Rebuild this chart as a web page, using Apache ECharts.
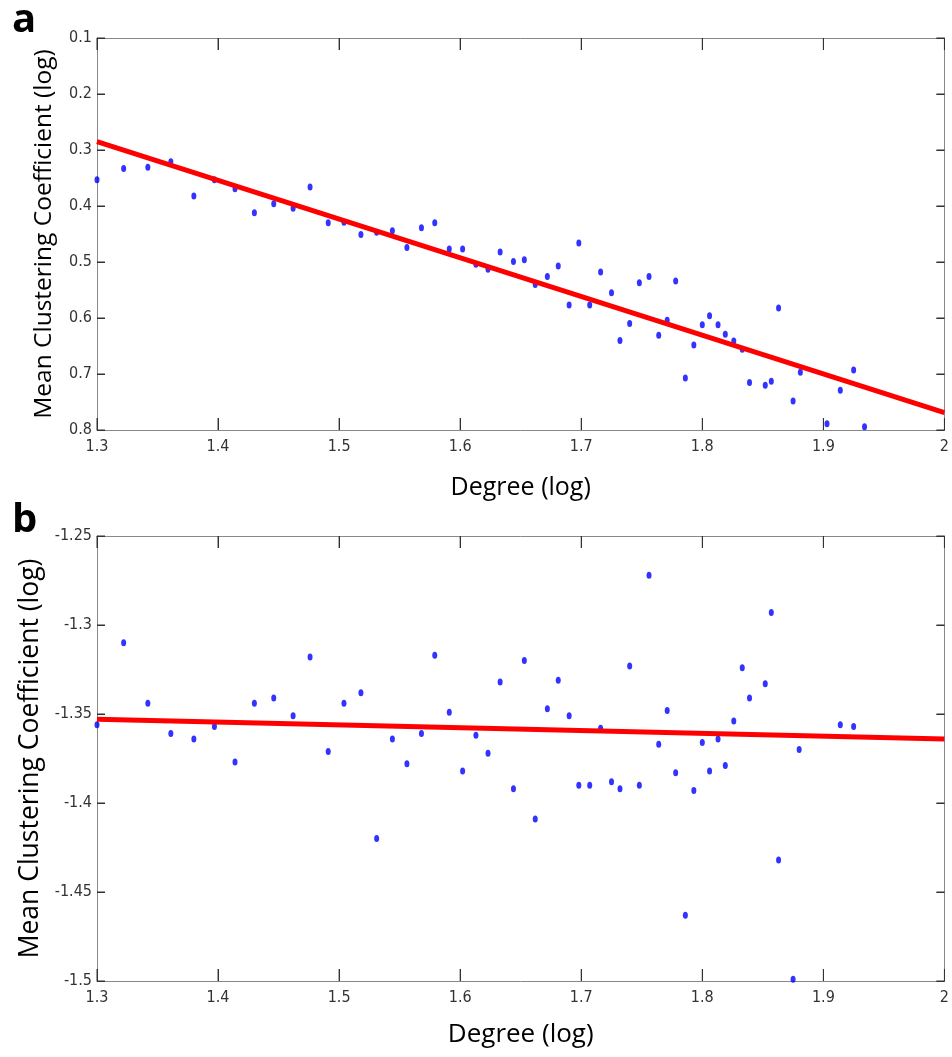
<!DOCTYPE html>
<html>
<head>
<meta charset="utf-8">
<script src="https://cdn.jsdelivr.net/npm/echarts@6/dist/echarts.min.js"></script>
<style>html,body{margin:0;padding:0;background:#fff;}#c{width:952px;height:1057px;}</style>
</head>
<body>
<div id="c"></div>
<script>
// Panel a data
const degreeA = [1.300,1.322,1.342,1.361,1.380,1.397,1.414,1.430,1.446,1.462,1.476,1.491,1.504,1.518,1.531,1.544,1.556,1.568,1.579,1.591,1.602,1.613,1.623,1.633,1.644,1.653,1.662,1.672,1.681,1.690,1.698,1.707,1.716,1.725,1.732,1.740,1.748,1.756,1.764,1.771,1.778,1.786,1.793,1.800,1.806,1.813,1.819,1.826,1.833,1.839,1.852,1.857,1.863,1.875,1.881,1.903,1.914,1.925,1.934];
const clusteringA = [0.353,0.333,0.331,0.321,0.382,0.353,0.369,0.412,0.396,0.404,0.366,0.430,0.429,0.451,0.447,0.444,0.474,0.439,0.430,0.477,0.477,0.504,0.513,0.482,0.499,0.496,0.540,0.526,0.507,0.577,0.466,0.577,0.518,0.555,0.640,0.610,0.537,0.526,0.631,0.604,0.534,0.707,0.648,0.612,0.596,0.612,0.629,0.641,0.656,0.715,0.720,0.713,0.582,0.748,0.697,0.789,0.729,0.693,0.794];
const fitA = [[1.3, 0.285], [2.0, 0.769]];

// Panel b data
const degreeB = [1.300,1.322,1.342,1.361,1.380,1.397,1.414,1.430,1.446,1.462,1.476,1.491,1.504,1.518,1.531,1.544,1.556,1.568,1.579,1.591,1.602,1.613,1.623,1.633,1.644,1.653,1.662,1.672,1.681,1.690,1.698,1.707,1.716,1.725,1.732,1.740,1.748,1.756,1.764,1.771,1.778,1.786,1.793,1.800,1.806,1.813,1.819,1.826,1.833,1.839,1.852,1.857,1.863,1.875,1.880,1.914,1.925];
const clusteringB = [-1.356,-1.310,-1.344,-1.361,-1.364,-1.357,-1.377,-1.344,-1.341,-1.351,-1.318,-1.371,-1.344,-1.338,-1.420,-1.364,-1.378,-1.361,-1.317,-1.349,-1.382,-1.362,-1.372,-1.332,-1.392,-1.320,-1.409,-1.347,-1.331,-1.351,-1.390,-1.390,-1.358,-1.388,-1.392,-1.323,-1.390,-1.272,-1.367,-1.348,-1.383,-1.463,-1.393,-1.366,-1.382,-1.364,-1.379,-1.354,-1.324,-1.341,-1.333,-1.293,-1.432,-1.499,-1.370,-1.356,-1.357];
const fitB = [[1.3, -1.353], [2.0, -1.364]];

// Tick values
const xTicks = [1.3, 1.4, 1.5, 1.6, 1.7, 1.8, 1.9, 2.0];
const yTicksA = [0.1, 0.2, 0.3, 0.4, 0.5, 0.6, 0.7, 0.8];
const yTicksB = [-1.5, -1.45, -1.4, -1.35, -1.3, -1.25];

const xTitle = 'Degree (log)';
const yTitle = 'Mean Clustering Coefficient (log)';

const chart = echarts.init(document.getElementById('c'), null, {renderer: 'canvas'});
function tickFont() { return {fontFamily: '"Liberation Sans Narrow", "DejaVu Sans Condensed", sans-serif', fontSize: 16, color: '#333'}; }
function titleFont(sz) { return {fontFamily: '"Open Sans", sans-serif', fontSize: sz, color: '#000'}; }
function axLine() { return {show: true, onZero: false, lineStyle: {color: '#888', width: 1}}; }
function axTick(len) { return {show: true, inside: true, length: len, lineStyle: {color: '#333', width: 1}}; }

const xRange = {min: 1.3, max: 2, interval: 0.1};
const yA = {min: 0.1, max: 0.8, interval: 0.1, inverse: true};
const yB = {min: -1.5, max: -1.25, interval: 0.05};

function xAx(gi, main, gap, sz) {
  return {
    type: 'value', gridIndex: gi, min: xRange.min, max: xRange.max, interval: xRange.interval,
    position: main ? 'bottom' : 'top',
    axisLine: axLine(), axisTick: axTick(12), splitLine: {show: false},
    axisLabel: main ? Object.assign({show: true, margin: 9}, tickFont()) : {show: false},
    name: main ? xTitle : '', nameLocation: 'middle', nameGap: gap, nameTextStyle: titleFont(sz)
  };
}
function yAx(gi, main, gap, sz, range) {
  return {
    type: 'value', gridIndex: gi, min: range.min, max: range.max, interval: range.interval, inverse: !!range.inverse,
    position: main ? 'left' : 'right',
    axisLine: axLine(), axisTick: axTick(8), splitLine: {show: false},
    axisLabel: main ? Object.assign({show: true, margin: 5}, tickFont()) : {show: false},
    name: main ? yTitle : '', nameLocation: 'middle', nameGap: gap, nameRotate: 90, nameTextStyle: titleFont(sz)
  };
}

const panelLabels = [
  {type: 'text', left: 12, top: 1, style: {text: 'a', font: 'bold 40px "Open Sans", sans-serif', fill: '#000'}},
  {type: 'text', left: 12, top: 501, style: {text: 'b', font: 'bold 40px "Open Sans", sans-serif', fill: '#000'}}
];

chart.setOption({
  animation: false,
  backgroundColor: '#fff',
  grid: [
    {left: 97, top: 38, width: 851, height: 392, show: false},
    {left: 97, top: 536, width: 851, height: 445, show: false}
  ],
  xAxis: [xAx(0, true, 45, 25), xAx(0, false, 0, 25), xAx(1, true, 41, 26), xAx(1, false, 0, 26)],
  yAxis: [yAx(0, true, 40, 24.5, yA), yAx(0, false, 0, 24.5, yA), yAx(1, true, 50, 26.5, yB), yAx(1, false, 0, 26.5, yB)],
  graphic: panelLabels,
  series: [
    {type: 'scatter', xAxisIndex: 0, yAxisIndex: 0, symbol: 'circle', symbolSize: [5, 7],
     itemStyle: {color: '#0000ff'}, data: degreeA.map((d, i) => [d, clusteringA[i]]), z: 3},
    {type: 'line', xAxisIndex: 0, yAxisIndex: 0, data: fitA, showSymbol: false, symbol: 'none',
     lineStyle: {color: '#ff0000', width: 5}, z: 4},
    {type: 'scatter', xAxisIndex: 2, yAxisIndex: 2, symbol: 'circle', symbolSize: [5, 7],
     itemStyle: {color: '#0000ff'}, data: degreeB.map((d, i) => [d, clusteringB[i]]), z: 3},
    {type: 'line', xAxisIndex: 2, yAxisIndex: 2, data: fitB, showSymbol: false, symbol: 'none',
     lineStyle: {color: '#ff0000', width: 5}, z: 4}
  ]
});

// Inside tick marks on all four sides, positioned through the chart's own axis scales
function tickGraphics(finder, yRange, yTicks) {
  const out = [];
  const st = () => ({stroke: '#333', lineWidth: 1});
  const yLo = yRange.inverse ? yRange.max : yRange.min;
  const yHi = yRange.inverse ? yRange.min : yRange.max;
  xTicks.forEach(v => {
    const b = chart.convertToPixel(finder, [v, yLo]);
    const t = chart.convertToPixel(finder, [v, yHi]);
    out.push({type: 'line', z: 100, shape: {x1: b[0], y1: b[1], x2: b[0], y2: b[1] - 12}, style: st()});
    out.push({type: 'line', z: 100, shape: {x1: t[0], y1: t[1], x2: t[0], y2: t[1] + 12}, style: st()});
  });
  yTicks.forEach(v => {
    const l = chart.convertToPixel(finder, [xRange.min, v]);
    const r = chart.convertToPixel(finder, [xRange.max, v]);
    out.push({type: 'line', z: 100, shape: {x1: l[0], y1: l[1], x2: l[0] + 8, y2: l[1]}, style: st()});
    out.push({type: 'line', z: 100, shape: {x1: r[0], y1: r[1], x2: r[0] - 8, y2: r[1]}, style: st()});
  });
  return out;
}
const ticks = tickGraphics({xAxisIndex: 0, yAxisIndex: 0}, yA, yTicksA)
  .concat(tickGraphics({xAxisIndex: 2, yAxisIndex: 2}, yB, yTicksB));
chart.setOption({graphic: panelLabels.concat(ticks)});
</script>
</body>
</html>
